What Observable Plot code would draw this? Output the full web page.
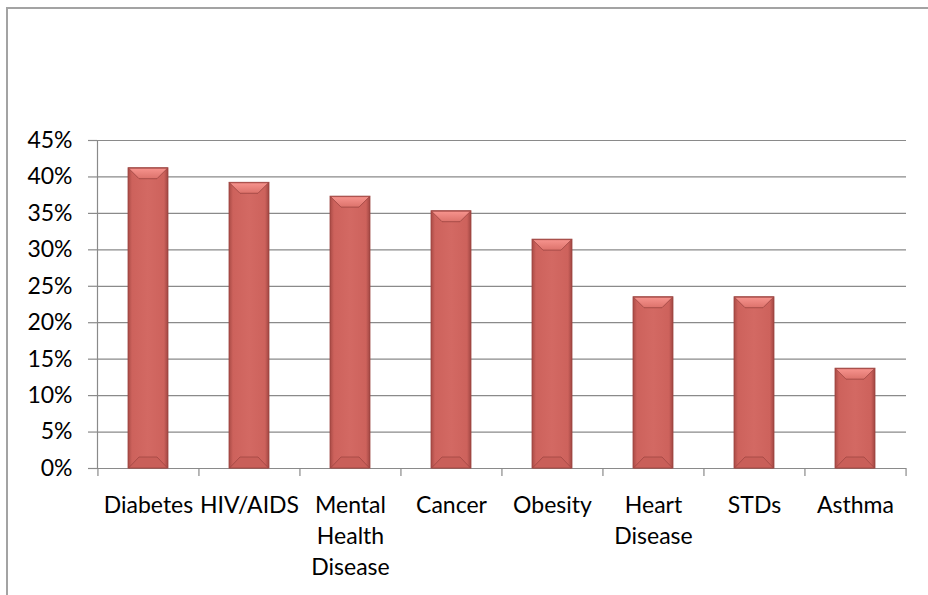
<!DOCTYPE html>
<html>
<head>
<meta charset="utf-8">
<script src="https://cdn.jsdelivr.net/npm/d3@7"></script>
<script src="https://cdn.jsdelivr.net/npm/@observablehq/plot@0.6"></script>
<style>
  html, body { margin: 0; padding: 0; background: #fff; }
  #wrap { position: relative; width: 928px; height: 595px; overflow: hidden; }
  #frame { position: absolute; left: 6px; top: 7px; width: 1000px; height: 700px;
           border-left: 2px solid #a3a3a3; border-top: 2px solid #a3a3a3; }
  #chart { position: absolute; left: 0; top: 0; }
</style>
</head>
<body>
<div id="wrap"><div id="frame"></div><div id="chart"></div></div>
<script>
const categories = ["Diabetes", "HIV/AIDS", "Mental Health Disease", "Cancer", "Obesity", "Heart Disease", "STDs", "Asthma"];
const xLabels = ["Diabetes", "HIV/AIDS", "Mental\nHealth\nDisease", "Cancer", "Obesity", "Heart\nDisease", "STDs", "Asthma"];
const values = [0.412, 0.392, 0.373, 0.353, 0.314, 0.235, 0.235, 0.137];
const yTicks = [0, 0.05, 0.10, 0.15, 0.20, 0.25, 0.30, 0.35, 0.40, 0.45];

const data = categories.map((c, i) => ({category: c, value: values[i]}));

const W = 928, H = 595, mL = 97, mR = 22, mT = 140, mB = 127;
const step = (W - mL - mR) / categories.length;
const grid = "#8a8a8a";

const chart = Plot.plot({
  width: W, height: H,
  marginLeft: mL, marginRight: mR, marginTop: mT, marginBottom: mB,
  style: {fontFamily: "Lato, 'Open Sans', sans-serif", fontSize: "23px", color: "#000", background: "transparent", overflow: "visible"},
  x: {domain: categories, paddingInner: 0.6, paddingOuter: 0.3, label: null},
  y: {domain: [0, 0.45], label: null},
  marks: [
    Plot.gridY(yTicks, {stroke: grid, strokeOpacity: 1, strokeWidth: 1.2}),
    Plot.frame({anchor: "left", stroke: grid, strokeWidth: 1.2}),
    Plot.axisY(yTicks, {tickSize: 9, tickPadding: 16, stroke: grid, strokeWidth: 1.2, tickFormat: d => Math.round(d * 100) + "%", fill: "#000", label: null}),
    Plot.axisX(categories, {tickSize: 8, text: null, dx: -step / 2, stroke: grid, strokeWidth: 1.2, label: null}),
    Plot.axisX([categories[categories.length - 1]], {tickSize: 8, text: null, dx: step / 2, stroke: grid, strokeWidth: 1.2, label: null}),
    Plot.axisX(categories, {tickSize: 0, tickPadding: 22, tickFormat: d => xLabels[categories.indexOf(d)], lineHeight: 1.35, fill: "#000", label: null}),
    Plot.barY(data, {x: "category", y: "value", fill: "#d0655f", stroke: "#9c4440", strokeWidth: 0.8, className: "bars"})
  ]
});

// bevel styling on the rendered bars
const svg = d3.select(chart);
const defs = svg.insert("defs", ":first-child");
const g = defs.append("linearGradient").attr("id", "barGrad").attr("x1", 0).attr("x2", 1).attr("y1", 0).attr("y2", 0);
[[0, "#a94b46"], [0.1, "#cd625c"], [0.5, "#d36963"], [0.9, "#cd625c"], [1, "#a04642"]].forEach(([o, c]) =>
  g.append("stop").attr("offset", o).attr("stop-color", c));
const gt = defs.append("linearGradient").attr("id", "capGrad").attr("x1", 0).attr("x2", 0).attr("y1", 0).attr("y2", 1);
[[0, "#f7948e"], [1, "#dc726b"]].forEach(([o, c]) => gt.append("stop").attr("offset", o).attr("stop-color", c));

svg.selectAll("g.bars rect").each(function () {
  const r = d3.select(this);
  r.attr("fill", "url(#barGrad)");
  const x = +r.attr("x"), y = +r.attr("y"), w = +r.attr("width"), h = +r.attr("height");
  const b = 11;
  const parent = d3.select(this.parentNode);
  parent.append("polygon")
    .attr("points", `${x + 0.5},${y + 0.5} ${x + w - 0.5},${y + 0.5} ${x + w - b},${y + b} ${x + b},${y + b}`)
    .attr("fill", "url(#capGrad)");
  parent.append("polygon")
    .attr("points", `${x + 0.5},${y + h} ${x + w - 0.5},${y + h} ${x + w - b},${y + h - b} ${x + b},${y + h - b}`)
    .attr("fill", "#c95f59").attr("opacity", 0.9);
});

document.getElementById("chart").appendChild(chart);
</script>
</body>
</html>
